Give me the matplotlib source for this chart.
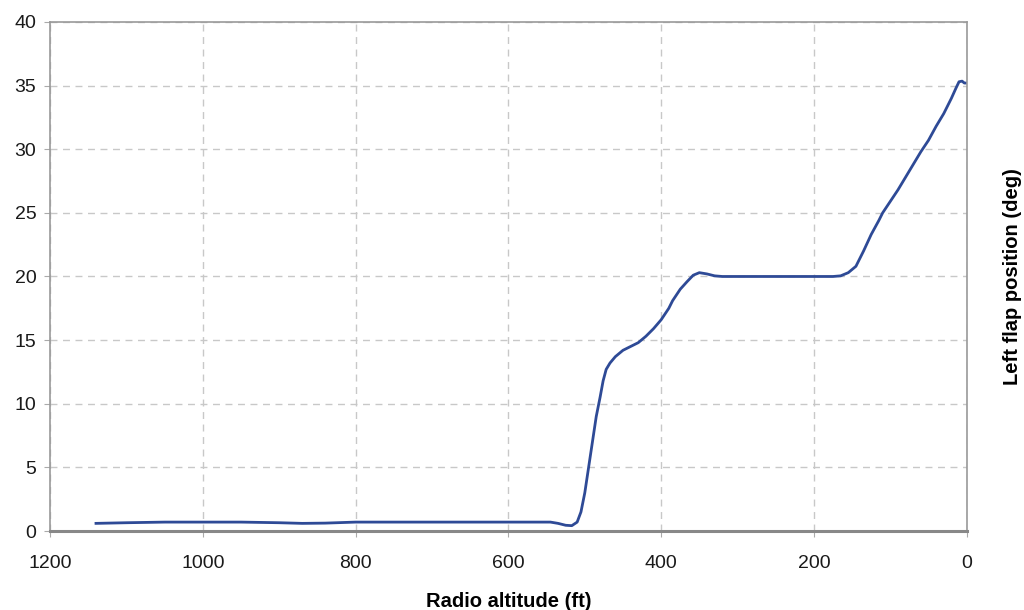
import matplotlib
matplotlib.use("Agg")
import matplotlib.pyplot as plt

altitude_ft = [1140, 1100, 1050, 1000, 950, 900, 870, 840, 800, 750, 700, 650, 600, 560,
               545, 535, 525, 517, 510, 505, 500, 495, 490, 485, 480, 476, 472, 467, 460,
               450, 440, 430, 420, 410, 400, 390, 385, 375, 366, 358, 350, 340, 330, 320,
               300, 250, 200, 175, 165, 155, 145, 135, 125, 115, 110, 100, 90, 80, 70, 60,
               50, 40, 30, 20, 14, 10, 6, 3, 0]
flap_deg = [0.6, 0.65, 0.7, 0.7, 0.7, 0.65, 0.6, 0.62, 0.7, 0.7, 0.7, 0.7, 0.7, 0.7,
            0.7, 0.6, 0.45, 0.42, 0.7, 1.5, 3.0, 5.0, 7.0, 9.0, 10.5, 11.8, 12.7, 13.2, 13.7,
            14.2, 14.5, 14.8, 15.3, 15.9, 16.6, 17.5, 18.1, 19.0, 19.6, 20.1, 20.3, 20.2, 20.05, 20.0,
            20.0, 20.0, 20.0, 20.0, 20.05, 20.3, 20.8, 22.0, 23.3, 24.4, 25.0, 25.9, 26.8, 27.8, 28.8, 29.8,
            30.7, 31.8, 32.8, 34.0, 34.8, 35.3, 35.35, 35.2, 35.2]

x_ticks = [1200, 1000, 800, 600, 400, 200, 0]
y_ticks = [0, 5, 10, 15, 20, 25, 30, 35, 40]

plt.rcParams['font.family'] = ['Liberation Sans', 'DejaVu Sans']

fig = plt.figure(figsize=(10.24, 6.10), dpi=100)
ax = fig.add_axes([0.049, 0.1295, 0.895, 0.8345])

ax.plot(altitude_ft, flap_deg, color='#2e4a96', linewidth=2.0, solid_joinstyle='round')

ax.set_xlim(1200, 0)
ax.set_ylim(0, 40)
ax.set_xticks(x_ticks)
ax.set_yticks(y_ticks)
ax.tick_params(axis='both', labelsize=14, colors='#aaaaaa', labelcolor='#1a1a1a', length=4)
ax.tick_params(axis='x', pad=13)
ax.tick_params(axis='y', pad=6)

ax.grid(True, color='#c8c8c8', linestyle=(0, (5, 4)), linewidth=1.0)
ax.set_axisbelow(True)

for side in ['top', 'right', 'left']:
    ax.spines[side].set_color('#999999')
    ax.spines[side].set_linewidth(1.2)
ax.spines['bottom'].set_color('#888888')
ax.spines['bottom'].set_linewidth(2.2)

ax.set_xlabel('Radio altitude (ft)', fontsize=14.5, fontweight='bold', labelpad=15)
ax.yaxis.set_label_position('right')
ax.set_ylabel('Left flap position (deg)', fontsize=14.5, fontweight='bold', labelpad=26)

fig.savefig('out.png', dpi=100)
